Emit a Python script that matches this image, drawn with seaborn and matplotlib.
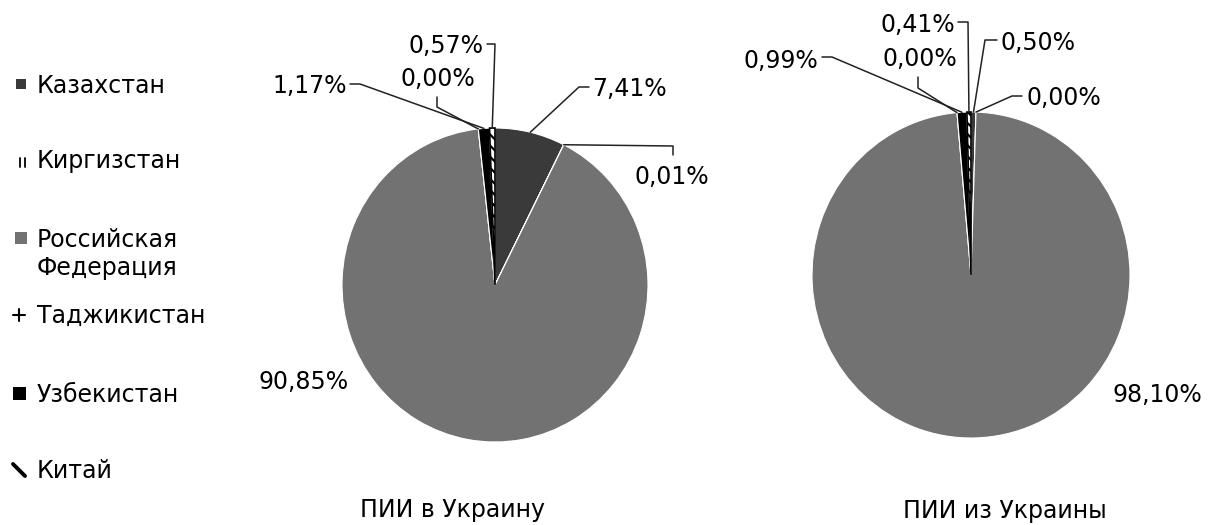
import matplotlib
matplotlib.use('Agg')
import matplotlib.pyplot as plt
import seaborn as sns
import numpy as np
from matplotlib.patches import Rectangle
from matplotlib.lines import Line2D

# ---------------- data ----------------
countries = ['Казахстан', 'Киргизстан', 'Российская\nФедерация',
             'Таджикистан', 'Узбекистан', 'Китай']
fdi_into = [7.41, 0.01, 90.85, 0.00, 1.17, 0.57]      # ПИИ в Украину
fdi_from = [0.50, 0.00, 98.10, 0.00, 0.99, 0.41]      # ПИИ из Украины
titles = ['ПИИ в Украину', 'ПИИ из Украины']

# ---------------- style ----------------
sns.set_theme(style='white')
plt.rcParams['font.family'] = ['DejaVu Sans']
plt.rcParams['text.color'] = 'black'
plt.rcParams['hatch.linewidth'] = 1.6
FS = 17

W, H = 1210, 525
fig = plt.figure(figsize=(W / 100, H / 100), dpi=100)
fig.patch.set_facecolor('white')

face = ['#3a3a3a', '#ffffff', '#727272', '#ffffff', '#000000', '#ffffff']


def fx(px):
    return px / W


def fy(py):
    return 1 - py / H


def make_ax(x0, x1, y0, y1):
    return fig.add_axes([fx(x0), fy(y1), (x1 - x0) / W, (y1 - y0) / H])


def fmt(v):
    return f'{v:.2f}%'.replace('.', ',')


def draw_pie(ax, values, label_specs):
    wedges, _ = ax.pie(values, startangle=90, counterclock=False,
                       colors=face, wedgeprops=dict(linewidth=0.8, edgecolor='white'))
    ax.set_aspect('auto')
    ax.set_xlim(-1, 1)
    ax.set_ylim(-1, 1)
    ax.axis('off')
    # China wedge: black outline with white diagonal dashes
    wedges[5].set_edgecolor('black')
    wedges[5].set_hatch('\\\\\\')
    wedges[5].set_linewidth(1.2)
    trans = ax.transData + fig.transFigure.inverted()
    for w, v, (tx, ty, ha, pts) in zip(wedges, values, label_specs):
        fig.text(fx(tx), fy(ty + 8), fmt(v), ha=ha, va='baseline', fontsize=FS,
                 color='black')
        if pts:
            mid = np.deg2rad((w.theta1 + w.theta2) / 2)
            end = trans.transform((np.cos(mid), np.sin(mid)))
            xs = [fx(p[0]) for p in pts] + [end[0]]
            ys = [fy(p[1]) for p in pts] + [end[1]]
            fig.add_artist(Line2D(xs, ys, color='#222222', lw=1.1,
                                  transform=fig.transFigure))


# label layout: (text x, text centre y, ha, leader points) in pixels
left_labels = [
    (592, 88, 'left', [(589, 87), (579, 87)]),
    (635, 176, 'left', [(673, 155), (673, 146)]),
    (258, 381, 'left', []),
    (475, 78, 'right', [(437, 97), (437, 107)]),
    (347, 85, 'right', [(350, 84), (360, 84)]),
    (483, 45, 'right', [(487, 44), (495, 44)]),
]
right_labels = [
    (1000, 42, 'left', [(997, 40), (985, 40)]),
    (1027, 97, 'left', [(1022, 96), (1012, 96)]),
    (1113, 394, 'left', []),
    (957, 58, 'right', [(918, 77), (918, 88)]),
    (818, 60, 'right', [(822, 57), (832, 57)]),
    (955, 24, 'right', [(958, 22), (968, 22)]),
]

ax1 = make_ax(342, 648, 128, 442)
draw_pie(ax1, fdi_into, left_labels)
ax2 = make_ax(812, 1130, 112, 438)
draw_pie(ax2, fdi_from, right_labels)

fig.text(fx(452), fy(517), titles[0], ha='center', va='baseline', fontsize=FS,
         color='black')
fig.text(fx(1005), fy(518), titles[1], ha='center', va='baseline', fontsize=FS,
         color='black')

# ---------------- legend (drawn manually) ----------------
legend_baselines = [93, 168, 247, 323, 402, 478]
for name, base in zip(countries, legend_baselines):
    for i, line in enumerate(name.split('\n')):
        fig.text(fx(37), fy(base + 28 * i), line, ha='left', va='baseline',
                 fontsize=FS, color='black')


def add_rect(x0, y0, x1, y1, color):
    fig.add_artist(Rectangle((fx(x0), fy(y1)), (x1 - x0) / W, (y1 - y0) / H,
                             facecolor=color, edgecolor='none',
                             transform=fig.transFigure))


def add_line(p0, p1, lw=1.5):
    fig.add_artist(Line2D([fx(p0[0]), fx(p1[0])], [fy(p0[1]), fy(p1[1])],
                          color='black', lw=lw, transform=fig.transFigure))


add_rect(16, 79, 26, 89, face[0])              # Казахстан
add_line((20, 158), (20, 167), 1.3)             # Киргизстан
add_line((25, 158), (25, 167), 1.3)
add_rect(15, 232, 27, 244, face[2])            # Россия
add_line((13, 315), (25, 315), 1.5)             # Таджикистан
add_line((19, 309), (19, 321), 1.5)
add_rect(13, 387, 26, 400, face[4])            # Узбекистан
add_line((13, 464), (25, 476), 2.8)             # Китай

fig.savefig('out.png', dpi=100, facecolor='white')
